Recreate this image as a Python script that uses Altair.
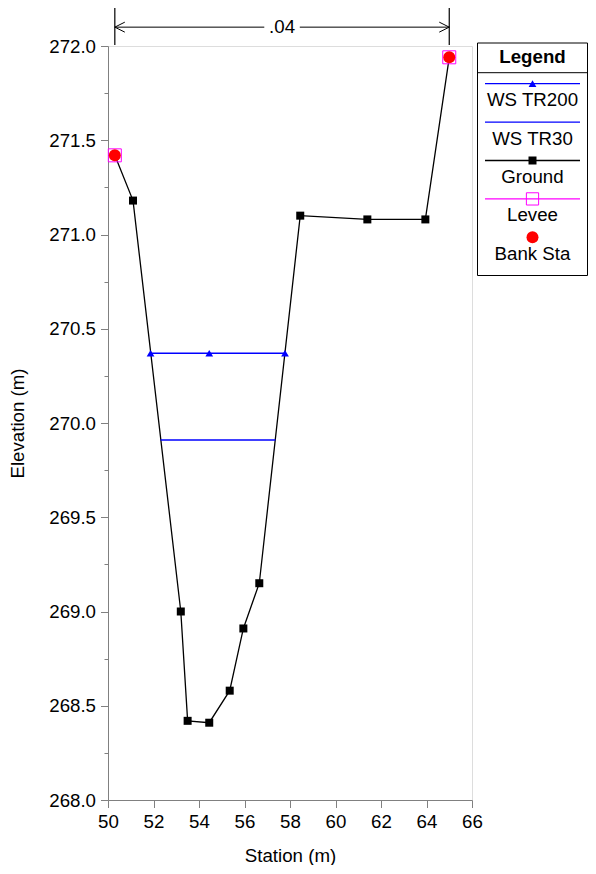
import altair as alt
import pandas as pd

# ---- data ----
ground_station = [50.3, 51.1, 53.2, 53.5, 54.45, 55.35, 55.95, 56.65, 58.45, 61.4, 63.95, 65.0]
ground_elev = [271.42, 271.18, 269.0, 268.42, 268.41, 268.58, 268.91, 269.15, 271.10, 271.08, 271.08, 271.94]

ws200_station = [51.87, 54.45, 57.78]
ws200_elev = [270.37, 270.37, 270.37]

ws30_station = [52.31, 57.36]
ws30_elev = [269.91, 269.91]

levee_station = [50.3, 65.0]
levee_elev = [271.42, 271.94]

bank_station = [50.3, 65.0]
bank_elev = [271.42, 271.94]

n_label = [".04"]

x_ticks = list(range(50, 67))
y_ticks = [268 + 0.25 * i for i in range(17)]

legend_labels = ["WS TR200", "WS TR30", "Ground", "Levee", "Bank Sta"]
legend_colors = ["#0000ff", "#0000ff", "#000000", "#ff00ff", "#ff0000"]
legend_has_line = [True, True, True, True, False]
legend_marker = ["triangle-up", None, "square", "square", "circle"]
legend_filled = [True, True, True, False, True]

# ---- styling ----
FONT = "Liberation Sans"
FS = 18.7
W, H = 364, 754
AXC = "#808080"

xs = alt.Scale(domain=[50, 66], nice=False, zero=False)
ys = alt.Scale(domain=[268, 272], nice=False, zero=False)

ground_df = pd.DataFrame({"station": ground_station, "elev": ground_elev})
ws200_df = pd.DataFrame({"station": ws200_station, "elev": ws200_elev})
ws30_df = pd.DataFrame({"station": ws30_station, "elev": ws30_elev})
levee_df = pd.DataFrame({"station": levee_station, "elev": levee_elev})
bank_df = pd.DataFrame({"station": bank_station, "elev": bank_elev})

X = alt.X(
    "station:Q", scale=xs, title="Station (m)",
    axis=alt.Axis(
        values=x_ticks, grid=False, domainColor=AXC, tickColor=AXC,
        tickSize={"condition": {"test": "datum.value % 2 === 0", "value": 7.5}, "value": 4},
        labelExpr="datum.value % 2 === 0 ? format(datum.value, 'd') : ''",
        labelFlush=False, labelOverlap=False, labelPadding=5, titlePadding=15,
        labelFont=FONT, titleFont=FONT, labelFontSize=FS, titleFontSize=FS,
        labelColor="black", titleColor="black", titleFontWeight="normal",
    ),
)
Y = alt.Y(
    "elev:Q", scale=ys, title="Elevation (m)",
    axis=alt.Axis(
        values=y_ticks, grid=False, domainColor=AXC, tickColor=AXC,
        tickSize={"condition": {"test": "datum.value % 0.5 === 0", "value": 7.5}, "value": 4},
        labelExpr="datum.value % 0.5 === 0 ? format(datum.value, '.1f') : ''",
        labelFlush=False, labelOverlap=False, labelPadding=5, titlePadding=21,
        labelFont=FONT, titleFont=FONT, labelFontSize=FS, titleFontSize=FS,
        labelColor="black", titleColor="black", titleFontWeight="normal",
    ),
)

ground_line = alt.Chart(ground_df).mark_line(color="black", strokeWidth=1.3).encode(x=X, y=Y, order="station:Q")
ground_pts = alt.Chart(ground_df).mark_point(shape="square", filled=True, color="black", size=64, opacity=1).encode(x="station:Q", y="elev:Q")

ws200_line = alt.Chart(ws200_df).mark_line(color="#0000ff", strokeWidth=1.5).encode(x="station:Q", y="elev:Q")
ws200_pts = alt.Chart(ws200_df).mark_point(shape="triangle-up", filled=True, color="#0000ff", size=60, opacity=1).encode(x="station:Q", y="elev:Q")
ws30_line = alt.Chart(ws30_df).mark_line(color="#0000ff", strokeWidth=1.5).encode(x="station:Q", y="elev:Q")

levee_pts = alt.Chart(levee_df).mark_point(shape="square", filled=False, color="#ff00ff", size=169, strokeWidth=1, opacity=1).encode(x="station:Q", y="elev:Q")
bank_pts = alt.Chart(bank_df).mark_point(shape="circle", filled=True, color="#ff0000", size=144, opacity=1).encode(x="station:Q", y="elev:Q")

# ---- Manning's n annotation between bank stations ----
N_BASE, N_TOP, N_ARROW = 272.005, 272.205, 272.10
left_b, right_b = bank_station[0], bank_station[1]
mid_b = (left_b + right_b) / 2
gap = 0.78
n_ticks = alt.Chart(bank_df).mark_rule(color="black", strokeWidth=1.2).encode(
    x="station:Q", y=alt.datum(N_BASE), y2=alt.datum(N_TOP))
seg_df = pd.DataFrame({"x": [left_b, mid_b + gap], "x2": [mid_b - gap, right_b]})
n_segs = alt.Chart(seg_df).mark_rule(color="black", strokeWidth=1).encode(
    x="x:Q", x2="x2:Q", y=alt.datum(N_ARROW))
arrow_l = alt.Chart(pd.DataFrame({"x": [left_b]})).mark_point(
    shape="M1,-0.5L0,0L1,0.5", filled=False, color="black", size=400, strokeWidth=1, opacity=1
).encode(x="x:Q", y=alt.datum(N_ARROW))
arrow_r = alt.Chart(pd.DataFrame({"x": [right_b]})).mark_point(
    shape="M-1,-0.5L0,0L-1,0.5", filled=False, color="black", size=400, strokeWidth=1, opacity=1
).encode(x="x:Q", y=alt.datum(N_ARROW))
n_text = alt.Chart(pd.DataFrame({"x": [mid_b], "t": n_label})).mark_text(
    font=FONT, fontSize=FS, color="black", baseline="middle", align="center"
).encode(x="x:Q", y=alt.datum(N_ARROW), text="t:N")

# ---- legend box (drawn to the right of the plot) ----
one = pd.DataFrame({"a": [0]})
LX0, LX1, LY0, LY1 = 369.5, 479.5, -3, 229.5
LCX = (LX0 + LX1) / 2
legend_layers = [
    alt.Chart(one).mark_rect(fill="white", stroke="black", strokeWidth=1).encode(
        x=alt.value(LX0), x2=alt.value(LX1), y=alt.value(LY0), y2=alt.value(LY1)),
    alt.Chart(one).mark_text(text="Legend", font=FONT, fontSize=FS, fontWeight="bold",
                             color="black", baseline="alphabetic", align="center").encode(
        x=alt.value(LCX), y=alt.value(17.3)),
    alt.Chart(one).mark_rule(color="black", strokeWidth=1).encode(
        x=alt.value(LX0), x2=alt.value(LX1), y=alt.value(26.7)),
]
ROW0, STEP = 37.7, 38.4
for i, lab in enumerate(legend_labels):
    ly = ROW0 + STEP * i
    if legend_has_line[i]:
        legend_layers.append(alt.Chart(one).mark_rule(color=legend_colors[i], strokeWidth=1.3).encode(
            x=alt.value(LX0 + 7.5), x2=alt.value(LX1 - 7.5), y=alt.value(ly)))
    if legend_marker[i] is not None:
        size = {"triangle-up": 60, "square": 64 if legend_filled[i] else 150, "circle": 144}[legend_marker[i]]
        legend_layers.append(alt.Chart(one).mark_point(
            shape=legend_marker[i], filled=legend_filled[i], color=legend_colors[i],
            size=size, opacity=1, strokeWidth=1).encode(x=alt.value(LCX), y=alt.value(ly)))
    legend_layers.append(alt.Chart(one).mark_text(
        text=lab, font=FONT, fontSize=FS, color="black", baseline="alphabetic", align="center").encode(
        x=alt.value(LCX), y=alt.value(ly + 22.5)))

chart = alt.layer(
    ground_line, ground_pts, ws200_line, ws200_pts, ws30_line, levee_pts, bank_pts,
    n_ticks, n_segs, arrow_l, arrow_r, n_text, *legend_layers
).properties(
    width=W, height=H,
    autosize=alt.AutoSizeParams(type="none"),
    padding={"left": 100, "top": 38, "right": 116, "bottom": 65},
).configure_view(stroke=None).configure(font=FONT)

chart.save("out.html", embed_options={"renderer": "svg", "actions": False})
